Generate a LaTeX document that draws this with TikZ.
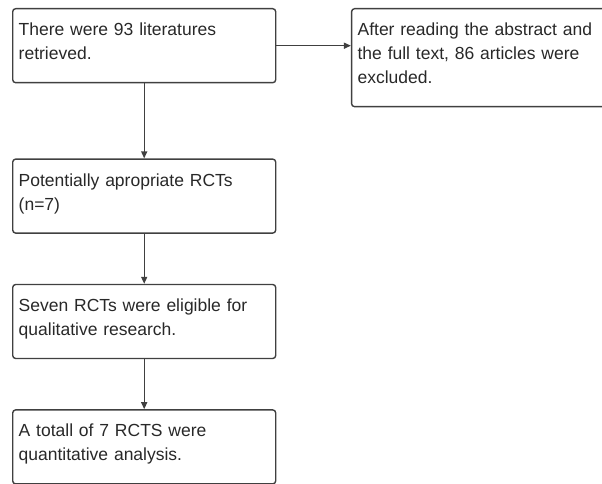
\documentclass[tikz,border=0pt]{standalone}
\usepackage{fontspec}
\setmainfont{Liberation Sans}
\usepackage{xcolor}
\usepackage{tikz}
\usetikzlibrary{positioning,arrows.meta}
\definecolor{flowline}{RGB}{64, 64, 64}
\definecolor{flowtext}{RGB}{40, 40, 40}

\tikzset{
    stepbox/.style={draw=flowline, line width=1.4pt, rounded corners=3pt,
        anchor=north west, align=left, text width=251pt, inner xsep=6pt,
        inner ysep=0pt, text=flowtext,
        font=\fontsize{17.5}{24}\selectfont,
        execute at begin node=\rule{0pt}{27pt},
        execute at end node=\rule[-23pt]{0pt}{0pt}},
    flowarrow/.style={draw=flowline, line width=1.4pt,
        -{Triangle[length=7pt,width=6pt]}}
}

\begin{document}
\begin{tikzpicture}[x=1pt,y=-1pt]
    \clip (0,0) rectangle (602,484);

    % Boxes
    \node[stepbox] (found) at (12,8) {There were 93 literatures\\retrieved.};
    \node[stepbox, right=74.5pt of found.north east, anchor=north west] (excluded)
        {After reading the abstract and\\the full text, 86 articles were\\excluded.};
    \node[stepbox, below=75pt of found.south west, anchor=north west] (possible)
        {Potentially apropriate RCTs\\(n=7)};
    \node[stepbox, below=50pt of possible.south west, anchor=north west] (eligible)
        {Seven RCTs were eligible for\\qualitative research.};
    \node[stepbox, below=50pt of eligible.south west, anchor=north west] (analysed)
        {A totall of 7 RCTS were\\quantitative analysis.};

    % Arrows
    \draw[flowarrow] (found.east) -- (found.east -| excluded.west);
    \draw[flowarrow] (found.south) -- (possible.north);
    \draw[flowarrow] (possible.south) -- (eligible.north);
    \draw[flowarrow] (eligible.south) -- (analysed.north);
\end{tikzpicture}
\end{document}
